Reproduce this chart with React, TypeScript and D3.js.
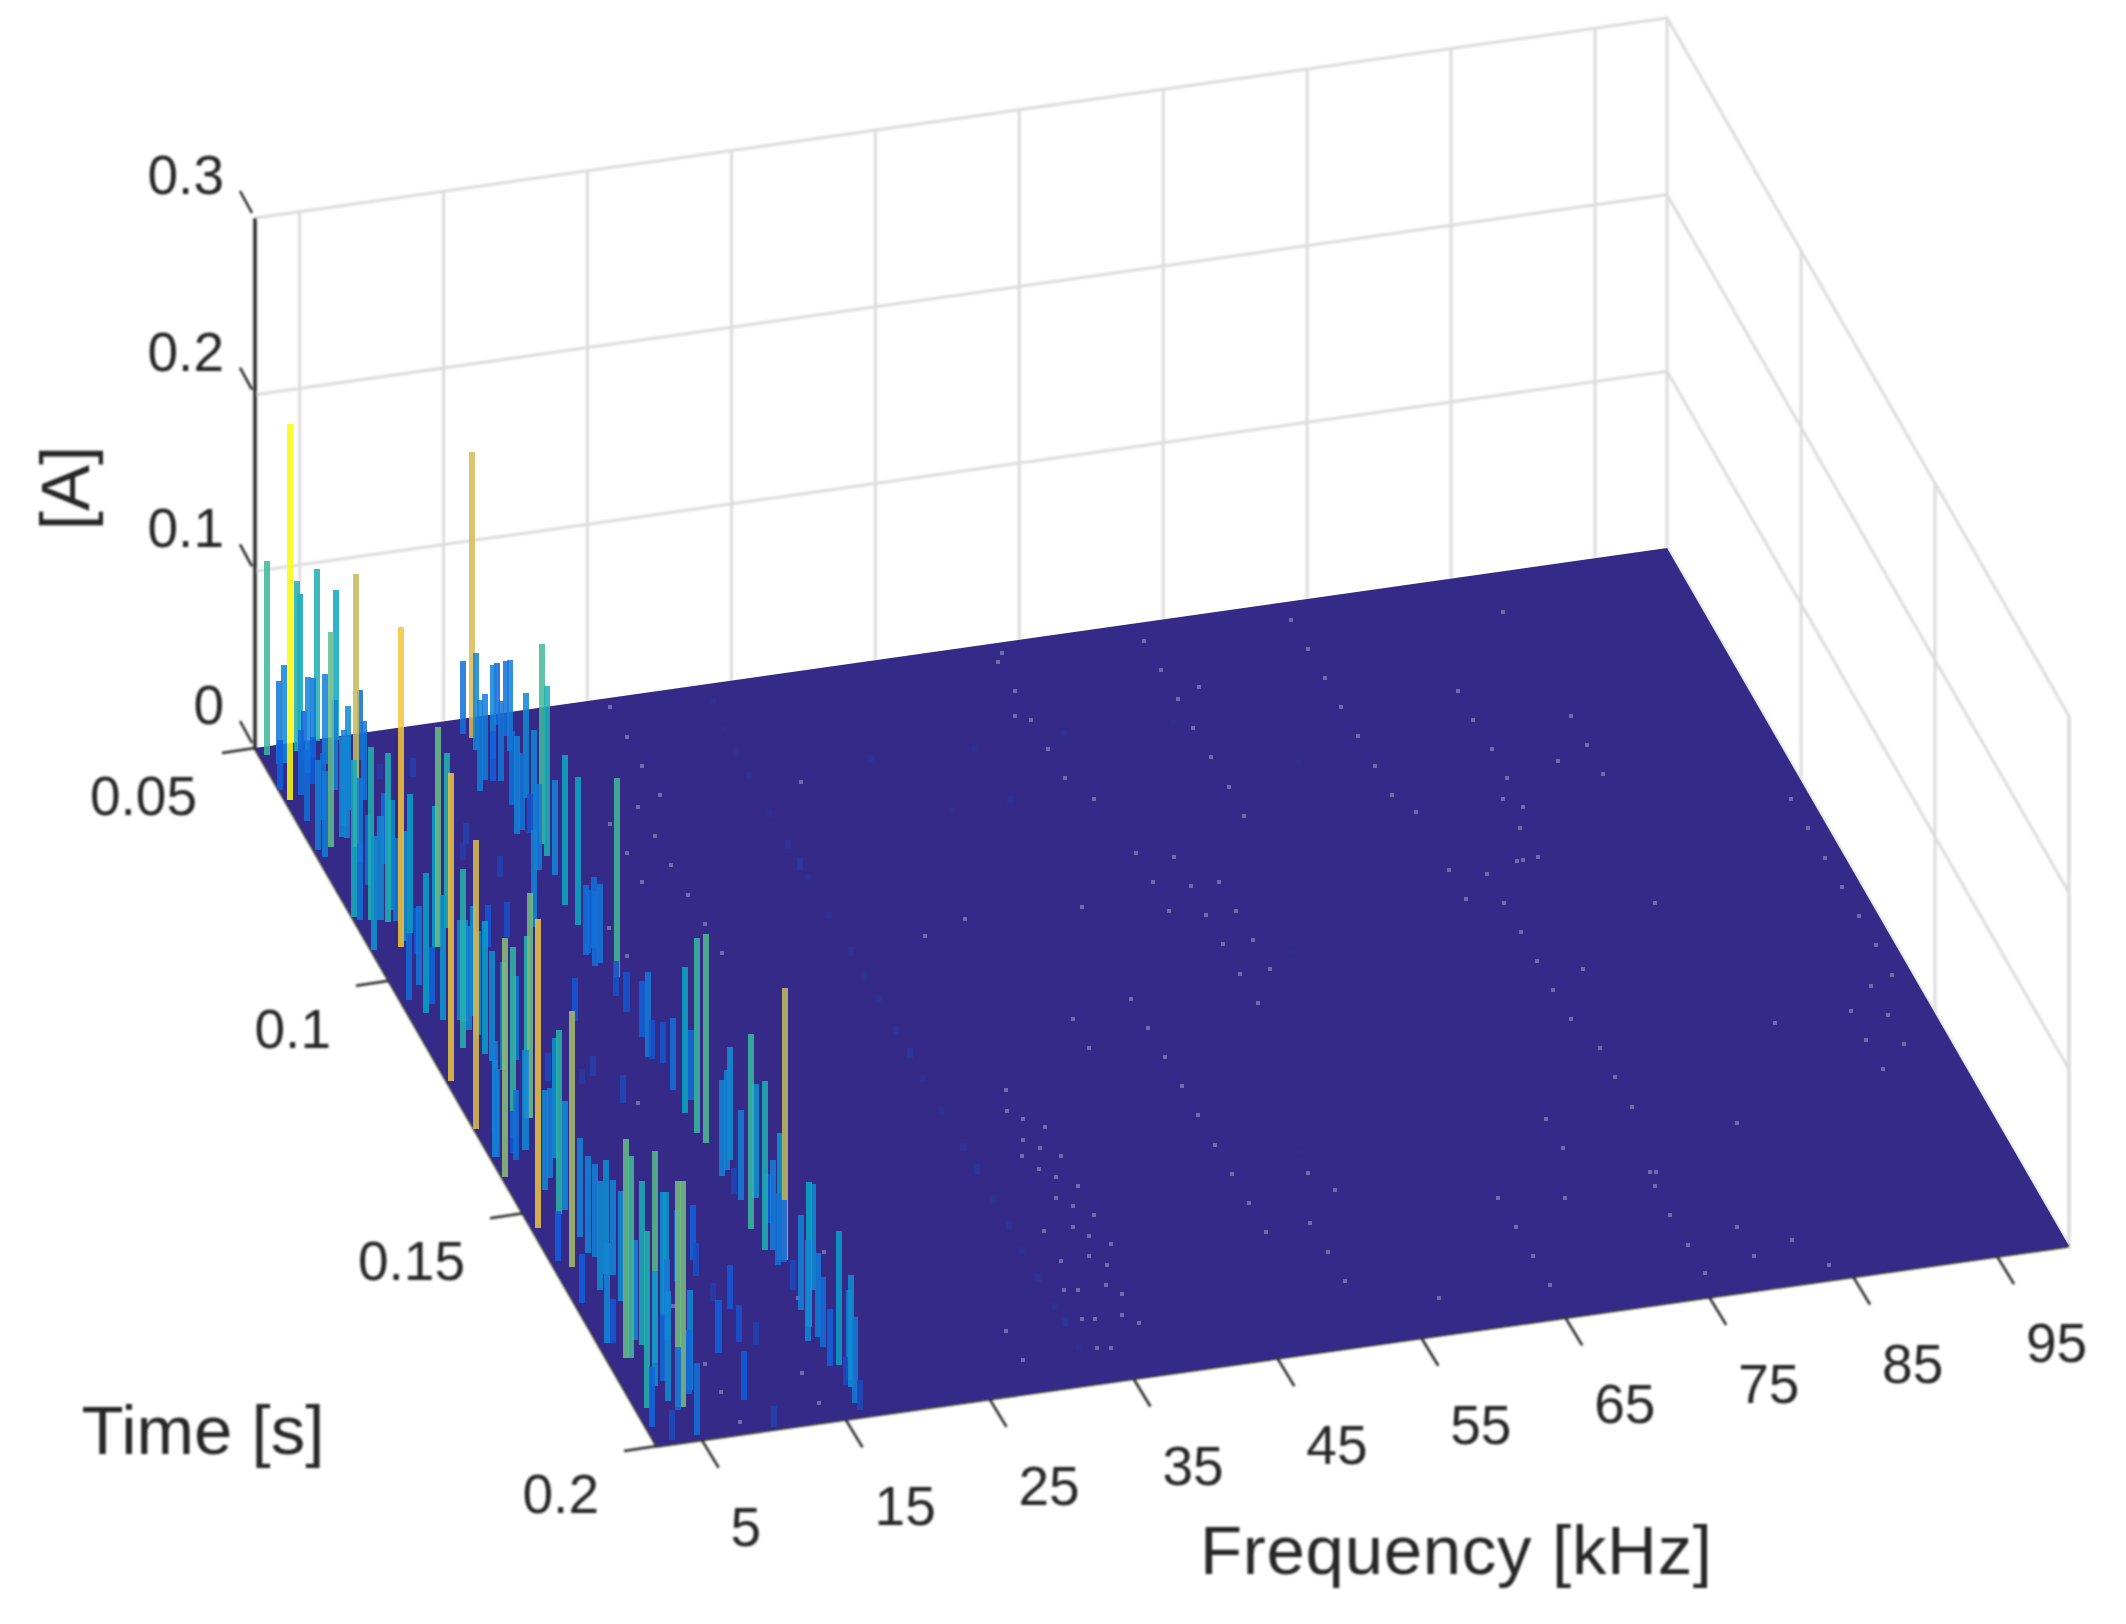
import React from 'react';
import * as d3 from 'd3';

// current spectrogram, viewed from above: [frequency kHz, time ms, amplitude A]
const lowBandSpikes = [
  [2.4, 51.7, 0.11], [2.2, 61.3, 0.213], [4.5, 51.6, 0.096], [4.9, 50.7, 0.086], [6.2, 50.2, 0.097],
  [3.1, 71.8, 0.122], [7.4, 50.7, 0.085], [4.7, 72.5, 0.155], [8.2, 55.3, 0.04], [3.9, 93.6, 0.181],
  [3.2, 53.8, 0.056], [2.9, 53.7, 0.047], [4.4, 56.3, 0.054], [5.3, 53.4, 0.045], [4.6, 53.8, 0.028],
  [5.8, 55, 0.051], [3, 87.4, 0.098], [5.6, 64.9, 0.059], [4, 88.3, 0.096], [6.3, 94.7, 0.125],
  [7.6, 91, 0.099], [2.2, 121.5, 0.174], [6.1, 94.6, 0.08], [2, 131.9, 0.164], [4.2, 70.1, 0.057],
  [4.5, 70.3, 0.057], [2.4, 73.6, 0.049], [2.6, 65.8, 0.04], [2, 86.3, 0.089], [4.4, 75.6, 0.048],
  [2.1, 93.5, 0.065], [5.9, 76.5, 0.04], [4.6, 88.2, 0.047], [5, 91.1, 0.079], [2.5, 104.4, 0.038],
  [4.7, 95.3, 0.026], [3.1, 107.3, 0.079], [3.8, 105.7, 0.032], [3.9, 109.3, 0.071], [4.2, 115.3, 0.101],
  [5, 109.8, 0.057], [5.3, 110, 0.057], [6, 109.2, 0.062], [5.4, 117.1, 0.075], [5.9, 120.9, 0.061],
  [2.1, 142.1, 0.135], [4.1, 134.6, 0.108], [5.9, 131.1, 0.127], [2.3, 153.3, 0.175], [5.7, 131, 0.103],
  [3.1, 162, 0.145], [4.2, 151, 0.104], [6, 139.9, 0.068], [4.3, 58.8, 0.027], [3.6, 66.2, 0.038],
  [2.7, 135.7, 0.036], [3.4, 139.2, 0.04], [2.2, 137.9, 0.055], [2.3, 138, 0.05], [3.5, 137.7, 0.024],
  [5, 143.6, 0.051], [2.4, 160.3, 0.028], [2.4, 169.5, 0.028], [2.5, 178.1, 0.057], [2.9, 178.3, 0.025],
  [4.7, 156.3, 0.056], [4.6, 159.7, 0.055], [4.9, 160.7, 0.053], [5, 164.2, 0.064], [5.4, 164.8, 0.054],
  [3.2, 181.5, 0.124], [3.5, 181.6, 0.114], [4.7, 179.5, 0.093], [2.7, 192, 0.1], [4.9, 183.3, 0.12],
  [7.3, 174.2, 0.07], [7.1, 174.2, 0.07], [6.5, 179.2, 0.046], [5, 192.9, 0.128], [4.7, 192.7, 0.128],
  [9.3, 167.6, 0.04], [11.1, 164, 0.031], [4.9, 198.9, 0.041], [5.9, 190.4, 0.036], [4.6, 193.4, 0.036],
  [3.1, 199.2, 0.017], [4.7, 187.1, 0.038], [2.3, 196.1, 0.034], [11.7, 174.7, 0.025], [9.3, 183.2, 0.03],
  [9.2, 193.3, 0.028], [11, 181.6, 0.021], [12, 182.7, 0.013], [10.7, 167.3, 0.019], [10.1, 199.5, 0.012],
  [10.9, 172.6, 0.01], [9.5, 96.1, 0.024], [11.1, 94.6, 0.02], [12.9, 82.5, 0.012], [11.9, 75, 0.012],
  [11, 60.2, 0.011], [8.8, 59.5, 0.008], [11.1, 78.1, 0.01], [8.4, 124.4, 0.016], [11.5, 124.5, 0.011],
  [12.4, 130.9, 0.016], [10.5, 125.8, 0.008], [12.4, 113.1, 0.024],
];

// the blue haze that fills the low band between its tall lines
const lowBandHaze = [
  [2.3, 87.1, 0.044], [4.1, 80.4, 0.04], [3.6, 87.7, 0.059], [4.7, 85.9, 0.062], [4.4, 92.4, 0.062],
  [3.7, 101.7, 0.045], [5.2, 112, 0.059], [5.6, 113.3, 0.059], [5.6, 118.7, 0.062], [7.1, 119.3, 0.048],
  [3.2, 132.7, 0.051], [4.4, 137.5, 0.057], [4.2, 146, 0.057], [4.7, 150.5, 0.062], [4, 167.4, 0.062],
  [5, 170, 0.062], [4.4, 178.3, 0.057], [4, 187.9, 0.065], [4.3, 191.2, 0.062], [6.1, 189.8, 0.057],
  [2, 58.9, 0.028], [3.1, 60.6, 0.037], [5.5, 60.6, 0.051], [4.8, 67.8, 0.054], [2.2, 72, 0.051],
  [7, 63.4, 0.045],
];

const highBandSpikes = [
  [16.2, 54.1, 0.162], [16.8, 77, 0.113], [16.7, 79.5, 0.096], [17.5, 67.4, 0.059], [15.8, 52.9, 0.041],
  [16, 56.6, 0.055], [16.8, 58.7, 0.053], [18.3, 52.2, 0.035], [18.5, 54.5, 0.042], [18.2, 57.6, 0.051],
  [15.5, 62.8, 0.049], [15.6, 74.3, 0.055], [16.8, 74.2, 0.057], [16, 89.9, 0.085], [16.1, 94.2, 0.084],
  [16.7, 105.7, 0.113], [13.2, 93.4, 0.055], [16.3, 99.1, 0.04], [16.1, 102.4, 0.045], [15.7, 100.1, 0.036],
  [16, 112.9, 0.023], [15.7, 122.4, 0.048], [15.9, 122.8, 0.022], [16.1, 118.3, 0.032], [16.1, 129.7, 0.041],
  [16.5, 123.9, 0.023], [15.9, 109.4, 0.02], [16, 73.8, 0.044], [16.4, 74.6, 0.022], [15.6, 82.2, 0.049],
  [16, 63.1, 0.028], [16.1, 164.1, 0.096], [16, 159.4, 0.11], [17.4, 153.5, 0.065], [17.2, 145.2, 0.064],
  [16.6, 147.1, 0.057], [16.2, 152.1, 0.015], [16.3, 141, 0.118], [16.1, 138.8, 0.11], [16, 134.6, 0.083],
  [17.3, 158.8, 0.028], [17, 166.6, 0.154], [16.7, 166.5, 0.072], [16.9, 167, 0.035], [16.4, 167.4, 0.041],
  [16.4, 172.8, 0.017], [16.1, 180.6, 0.082], [17.7, 173.4, 0.06], [15.5, 183.2, 0.057], [16.3, 182.9, 0.048],
  [16.2, 185, 0.04], [16.6, 189, 0.076], [16, 188.8, 0.032], [16.3, 193.2, 0.016], [16.6, 193.6, 0.063],
  [16.2, 197, 0.049], [16.3, 198.5, 0.017],
];

const highBandHaze = [
  [14.8, 64.7, 0.051], [16.5, 63.3, 0.045], [16.3, 68.5, 0.042], [16.5, 83.7, 0.054], [15.5, 100.4, 0.04],
  [15.7, 102.7, 0.042], [16.9, 132.2, 0.04], [16.1, 148, 0.054], [16.4, 153.5, 0.051], [16.6, 164.3, 0.051],
  [16.2, 177, 0.054], [16.7, 192.3, 0.051],
];

const faintSpikes = [
  [33, 54, 0.003], [32.6, 60, 0.003], [32.5, 65, 0.004], [32.5, 70, 0.004], [32.4, 78, 0.004],
  [32.4, 85, 0.005], [32.4, 89.5, 0.007], [32.5, 92, 0.004], [32.5, 100, 0.004], [32.5, 108, 0.005],
  [32.5, 113, 0.004], [32.6, 118, 0.004], [32.5, 125, 0.005], [32.5, 130, 0.006], [32.5, 135, 0.004],
  [32.5, 142, 0.004], [32.5, 150, 0.005], [32.5, 155, 0.006], [32.5, 161, 0.004], [32.5, 167, 0.005],
  [32.5, 172, 0.004], [32.5, 178, 0.005], [32.5, 184, 0.004], [32.5, 187.8, 0.006], [32.5, 193, 0.004],
  [41, 70, 0.004], [48, 71, 0.004], [54.3, 70.6, 0.004], [48.4, 82.1, 0.004], [44.3, 82.3, 0.003],
  [61.8, 70.9, 0.002], [68.4, 82.4, 0.002], [54, 160, 0.002], [61, 120, 0.002],
];

// single low bins scattered over the rest of the spectrum: [frequency kHz, time ms]
const faintDots = [
  [52.8, 60.1], [51.9, 65], [52.8, 66.3], [52.8, 72.5], [52.8, 78.8], [53.9, 83.7], [52.8, 53.8], [53.4, 52.1],
  [63, 53.7], [63, 60], [63, 66.3], [62.9, 72.4], [63, 78.7], [63, 85.1], [62.9, 91.3], [64.8, 64.5],
  [73.2, 53.7], [73.2, 60], [73.2, 66.3], [73.2, 72.4], [73.2, 78.7], [73.2, 85], [73.2, 91.3], [74.1, 95.4],
  [54.6, 95.7], [56.9, 97.6], [54.6, 101.9], [56.9, 103.7], [58.9, 103.7], [54.6, 108.1], [56.8, 110], [58.9, 110],
  [56.8, 116.2], [58.9, 116.3], [56.8, 122.6], [58.9, 122.5], [56.9, 128.9], [49.1, 104.9], [41.2, 104], [38, 106.3],
  [48.9, 124.6], [44.4, 126.8], [48.9, 130.7], [44.4, 133.1], [48.9, 137], [87.1, 58.1], [81.3, 72.5], [81.2, 78.7],
  [81.3, 85], [81.2, 91.2], [81.2, 97.4], [80.2, 101.5], [80.3, 107.8], [80.2, 95.2], [87.6, 80.6], [87.6, 86.9],
  [87.5, 93.1], [85.1, 89.3], [78.8, 108], [79.2, 108], [74.1, 107.8], [76.4, 109.7], [74.1, 114.1], [76.4, 115.9],
  [76.4, 122.2], [76.4, 128.4], [76.3, 134.6], [76.4, 140.8], [77.2, 147.4], [77.1, 153.7], [79, 131.3], [86.1, 120.2],
  [98.7, 103.3], [98.7, 109.6], [98.7, 116], [98.7, 122.2], [98.7, 128.5], [98.7, 134.8], [98.7, 141.1], [96.9, 142.8],
  [94.7, 147.2], [96.9, 149], [94.6, 153.3], [96.9, 155.2], [94.6, 159.6], [89.4, 147.4], [37.5, 139.1], [36.8, 143.2],
  [37.5, 145.3], [38.6, 147.5], [36.7, 149.5], [37.5, 151.6], [36.1, 152.7], [38.6, 153.8], [36.7, 155.8], [37.5, 157.8],
  [38.6, 160.1], [36.7, 162], [37.5, 164], [38.5, 166.4], [36.7, 168.2], [37.4, 170.5], [38.5, 172.7], [36.7, 174.4],
  [37.5, 176.7], [36.7, 180.7], [37.4, 182.9], [36.6, 187.1], [37.4, 189.2], [34.7, 168.2], [34.7, 174.6], [33.8, 180.5],
  [34.7, 180.8], [33.9, 186.8], [34.7, 187.1], [33.8, 192.9], [34.7, 193.3], [28.6, 186.9], [28.6, 193.2], [48.9, 143.3],
  [48.9, 149.5], [48.9, 155.8], [48.9, 162.1], [48.9, 168.4], [48.9, 174.7], [53.8, 164], [52.1, 174.1], [52.2, 180.3],
  [52.2, 186.6], [54.9, 168.2], [77.1, 160.1], [71.1, 160], [71.1, 166.3], [65.1, 174.4], [69.4, 176.3], [65.2, 180.7],
  [65.2, 187], [65.2, 193.2], [75.8, 173.6], [76.2, 173.6], [75.6, 176.4], [75.5, 182.6], [75.6, 189], [75.6, 195.2],
  [83.2, 166.2], [79.4, 186.9], [79.4, 193.2], [82.4, 191], [83.9, 197], [57.6, 192.6], [35.7, 72.2], [26.2, 70.7],
  [26.1, 64.5], [24.3, 78.8], [24.3, 85], [24.3, 91.4], [21.8, 87.5], [24.3, 97.7], [24.3, 103.9], [26.2, 58.2],
  [24.3, 72.5], [21.9, 75.1], [21.9, 81.3], [18, 95.8], [18.1, 101.9], [13.4, 131.3], [19.8, 166.1], [16.4, 174.6],
  [8.1, 172.6], [8, 185.1], [8, 191], [13.9, 189.6], [13.9, 196], [8.1, 197.5], [26.2, 51.9],
];

const ampTicks = [0, 0.1, 0.2, 0.3];
const timeTicks = [50, 100, 150, 200];
const timeLabels = ['0.05', '0.1', '0.15', '0.2'];
const freqTicks = [5, 15, 25, 35, 45, 55, 65, 75, 85, 95];

// parula, the colormap MATLAB used for this figure
const parula = ['#352a87', '#0f5cdd', '#1481d6', '#06a4ca', '#2eb7a4', '#87bf77', '#d1bb59', '#fec832', '#f9fb0e'];

const font = '"Liberation Sans", Arial, sans-serif';
const ink = '#262626';
const gridColor = '#dcdcdc';

const width = 2126;
const height = 1624;

// the view is orthographic, so three screen vectors give the whole box
const origin = { x: 255, y: 748 };
const freqVec = { x: 1412, y: -200 };
const timeVec = { x: 402, y: 698 };
const ampHeight = 530;

const freqScale = d3.scaleLinear().domain([1.9, 100]).range([0, 1]);
const timeScale = d3.scaleLinear().domain([50, 200]).range([0, 1]);
const ampScale = d3.scaleLinear().domain([0, 0.3]).range([0, ampHeight]);
const colorScale = d3.scaleLinear<string>()
  .domain(d3.range(parula.length).map(i => (i / (parula.length - 1)) * 0.213))
  .range(parula)
  .clamp(true);

const project = (f: number, t: number, a = 0): [number, number] => {
  const u = freqScale(f);
  const v = timeScale(t);
  return [
    origin.x + freqVec.x * u + timeVec.x * v,
    origin.y + freqVec.y * u + timeVec.y * v - ampScale(a),
  ];
};

const line = d3.line();
const freqMin = freqScale.domain()[0];
const freqMax = freqScale.domain()[1];
const binWidth = 0.42;

// back to front, the way the surface hides itself
const spikes = [...lowBandSpikes, ...lowBandHaze, ...highBandSpikes, ...highBandHaze, ...faintSpikes]
  .slice()
  .sort((p, q) => d3.ascending(p[1], q[1]));

function GridLines() {
  const paths: string[] = [];
  ampTicks.slice(1).forEach(a => {
    paths.push(line([project(freqMin, 50, a), project(freqMax, 50, a), project(freqMax, 200, a)]) as string);
  });
  [...freqTicks, freqMax].forEach(f => {
    paths.push(line([project(f, 50, 0), project(f, 50, 0.3)]) as string);
  });
  timeTicks.slice(1).forEach(t => {
    paths.push(line([project(freqMax, t, 0), project(freqMax, t, 0.3)]) as string);
  });
  paths.push(line([project(freqMax, 50, 0), project(freqMax, 200, 0), project(freqMax, 200, 0.3)]) as string);
  return (
    <g fill="none" stroke={gridColor} strokeWidth={3}>
      {paths.map((d, i) => <path key={i} d={d} />)}
    </g>
  );
}

function Axes() {
  const ticks: string[] = [];
  ampTicks.forEach(a => {
    const [x, y] = project(freqMin, 50, a);
    ticks.push(line([[x - 3, y - 5], [x - 15, y - 27]]) as string);
  });
  timeTicks.forEach(t => {
    const [x, y] = project(freqMin, t);
    ticks.push(line([[x, y], [x - 33, y + 5]]) as string);
  });
  freqTicks.forEach(f => {
    const [x, y] = project(f, 200);
    ticks.push(line([[x, y], [x + 17, y + 28]]) as string);
  });
  return (
    <g fill="none" stroke={ink}>
      <path d={line([project(freqMin, 50, 0.3), project(freqMin, 50, 0)]) as string} strokeWidth={3.5} />
      <path d={line([project(freqMin, 50), project(freqMin, 200), project(freqMax, 200)]) as string} strokeWidth={3} />
      {ticks.map((d, i) => <path key={i} d={d} strokeWidth={2.5} />)}
    </g>
  );
}

function Surface() {
  const floor = [project(freqMin, 50), project(freqMax, 50), project(freqMax, 200), project(freqMin, 200)];
  return (
    <g>
      <path d={(line([...floor, floor[0]]) as string) + 'Z'} fill={parula[0]} />
      <g fill="#726bae" shapeRendering="crispEdges">
        {faintDots.map(([f, t], i) => {
          const [x, y] = project(f, t);
          return <rect key={i} x={x - 2} y={y - 2} width={4} height={4} />;
        })}
      </g>
      <g shapeRendering="crispEdges" fillOpacity={0.86}>
        {spikes.map(([f, t, a], i) => {
          const [x0, base] = project(f - binWidth / 2, t);
          const [x1] = project(f + binWidth / 2, t);
          const h = ampScale(a);
          return <rect key={i} x={x0} y={base - h} width={x1 - x0} height={h} fill={colorScale(a)} />;
        })}
      </g>
    </g>
  );
}

function Labels() {
  const tick = { fontFamily: font, fontSize: 55, fill: ink };
  const title = { fontFamily: font, fontSize: 69, fill: ink };
  return (
    <g filter="url(#soft)">
      {ampTicks.map(a => {
        const [, y] = project(freqMin, 50, a);
        return <text key={a} x={224} y={y - 24} textAnchor="end" {...tick}>{a}</text>;
      })}
      {timeTicks.map((t, i) => {
        const [x, y] = project(freqMin, t);
        return <text key={t} x={x - 58} y={y + 67} textAnchor="end" {...tick}>{timeLabels[i]}</text>;
      })}
      {freqTicks.map(f => {
        const [x, y] = project(f, 200);
        return <text key={f} x={x + 29} y={y + 106} {...tick}>{f}</text>;
      })}
      <text x={1456} y={1574} textAnchor="middle" textLength={512} {...title}>Frequency [kHz]</text>
      <text x={203} y={1454} textAnchor="middle" {...title}>Time [s]</text>
      <text transform="translate(65,488) rotate(-90)" y={24} textAnchor="middle" {...title}>[A]</text>
    </g>
  );
}

export default function App() {
  return (
    <svg
      width={width}
      height={height}
      style={{ position: 'absolute', left: 0, top: 0, display: 'block', background: '#fff' }}
    >
      <defs>
        <filter id="soft" x="-5%" y="-5%" width="110%" height="110%">
          <feGaussianBlur stdDeviation={0.9} />
        </filter>
      </defs>
      <g filter="url(#soft)">
        <GridLines />
        <Axes />
      </g>
      <Surface />
      <Labels />
    </svg>
  );
}
